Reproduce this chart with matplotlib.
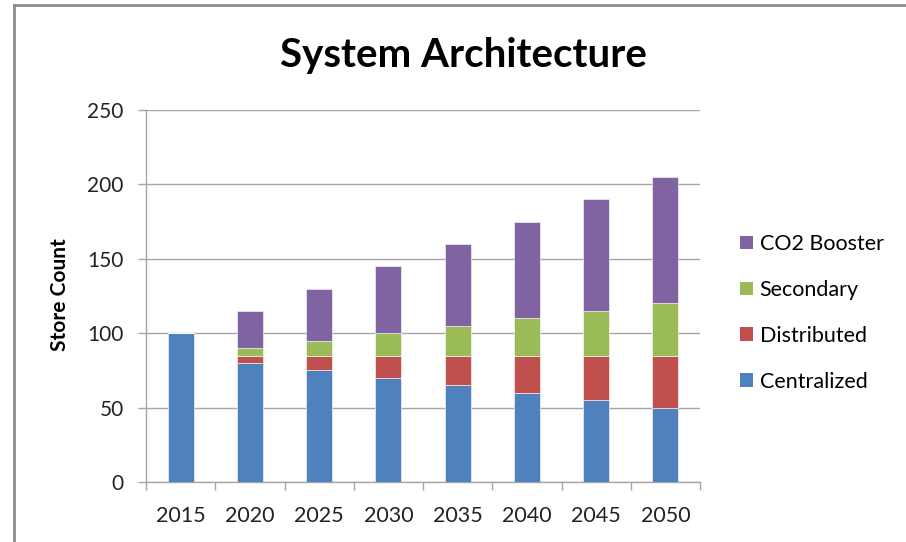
import matplotlib
matplotlib.use("Agg")
import matplotlib.pyplot as plt
from matplotlib.patches import Patch
from matplotlib.lines import Line2D
import numpy as np

years = ["2015", "2020", "2025", "2030", "2035", "2040", "2045", "2050"]
centralized = [100, 80, 75, 70, 65, 60, 55, 50]
distributed = [0, 5, 10, 15, 20, 25, 30, 35]
secondary = [0, 5, 10, 15, 20, 25, 30, 35]
co2_booster = [0, 25, 35, 45, 55, 65, 75, 85]

series_names = ["Centralized", "Distributed", "Secondary", "CO2 Booster"]
colors = ["#4F81BD", "#C0504D", "#9BBB59", "#8064A2"]

plt.rcParams['font.family'] = ['Lato', 'DejaVu Sans']

fig = plt.figure(figsize=(9.06, 5.42), dpi=100)
ax = fig.add_axes([146/906, 60/542, (700-146)/906, (482-110)/542])

x = np.arange(len(years))
bottom = np.zeros(len(years))
for name, vals, c in zip(series_names, [centralized, distributed, secondary, co2_booster], colors):
    ax.bar(x, vals, width=0.375, bottom=bottom, color=c, edgecolor='white', linewidth=0.4, zorder=3, label=name)
    bottom += np.array(vals)

ax.set_xlim(-0.5, len(years) - 0.5)
ax.set_ylim(0, 250)
ax.set_yticks(range(0, 251, 50))
ax.yaxis.grid(True, color='#A6A6A6', linewidth=1.0, zorder=0)
ax.set_xticks(x)
ax.set_xticklabels(years)
ax.set_xticks(np.arange(-0.5, len(years)), minor=True)
ax.tick_params(axis='x', which='major', length=0, pad=17, labelsize=15.5, colors='#222222')
ax.tick_params(axis='x', which='minor', length=6, color='#A6A6A6', width=1)
ax.tick_params(axis='y', which='major', length=6, color='#A6A6A6', width=1, pad=10, labelsize=15, labelcolor='#222222')
for s in ['top', 'right']:
    ax.spines[s].set_visible(False)
for s in ['left', 'bottom']:
    ax.spines[s].set_color('#A6A6A6')
    ax.spines[s].set_linewidth(1)

fig.text(60/906, 1 - 295/542, "Store Count", rotation=90, ha='center', va='center',
         fontsize=15, fontweight='bold', color='black')
fig.text(463/906, 1 - 55/542, "System Architecture", ha='center', va='center', fontsize=29, fontweight='bold', color='black')

handles = [Patch(facecolor=c, edgecolor='none') for c in colors][::-1]
labels = series_names[::-1]
fig.legend(handles, labels, loc='center left', bbox_to_anchor=(721/906, 1 - 313/542), frameon=False,
           fontsize=15.5, handlelength=0.6, handleheight=0.6, labelspacing=1.2, handletextpad=0.3)

# outer border lines (top and left)
fig.add_artist(Line2D([14/906, 1], [1 - 5/542, 1 - 5/542], color='#8C8C8C', linewidth=2, transform=fig.transFigure))
fig.add_artist(Line2D([14/906, 14/906], [0, 1 - 5/542], color='#8C8C8C', linewidth=2, transform=fig.transFigure))

fig.savefig("out.png", dpi=100)
